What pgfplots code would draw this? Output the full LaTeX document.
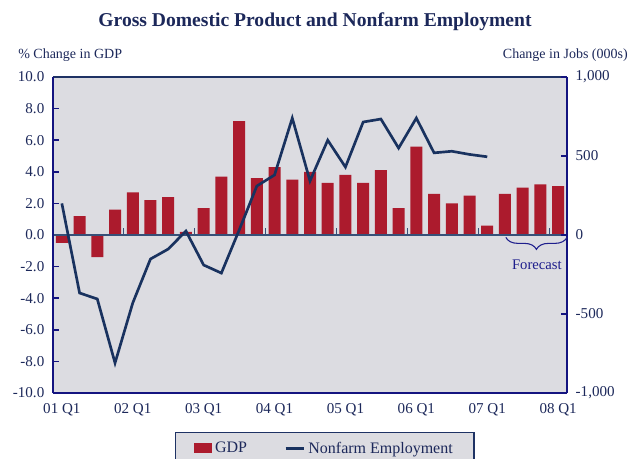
\documentclass[border=0pt]{standalone}
\usepackage{pgfplots}
\pgfplotsset{compat=1.18}
\usepackage{pgfplotstable}
\usepackage{fontspec}
\setmainfont{Liberation Serif}
\usetikzlibrary{decorations.pathreplacing}

\definecolor{gdpred}{RGB}{172,27,45}
\definecolor{jobline}{RGB}{25,50,95}
\definecolor{plotbg}{RGB}{220,220,225}
\definecolor{spine}{RGB}{20,20,128}
\definecolor{frameline}{RGB}{30,50,100}
\definecolor{zeroline}{RGB}{55,80,120}
\definecolor{txtblue}{RGB}{28,40,90}
\definecolor{fcblue}{RGB}{30,30,140}

% GDP, % change, 01 Q1 .. 08 Q1 (last four are forecast)
\pgfplotstableread{
q gdp
0 -0.5
1 1.2
2 -1.4
3 1.6
4 2.7
5 2.2
6 2.4
7 0.2
8 1.7
9 3.7
10 7.2
11 3.6
12 4.3
13 3.5
14 4.0
15 3.3
16 3.8
17 3.3
18 4.1
19 1.7
20 5.6
21 2.6
22 2.0
23 2.5
24 0.6
25 2.6
26 3.0
27 3.2
28 3.1
}\gdpdata

% nonfarm employment, change in jobs (000s)
\pgfplotstableread{
q jobs
0 200
1 -367
2 -405
3 -810
4 -430
5 -152
6 -89
7 25
8 -190
9 -241
10 30
11 310
12 380
13 740
14 342
15 600
16 430
17 715
18 734
19 550
20 740
21 520
22 530
23 510
24 495
}\jobsdata

\begin{document}
\begin{tikzpicture}
\pgfplotsset{
  base/.style={
    width=385.5pt, height=237pt, scale only axis,
    at={(0,0)}, anchor=south west,
    xmin=-0.5, xmax=28.5,
    clip=false,
    axis line style={draw=none},
    tick align=inside,
    major tick length=4.5pt,
    tick style={spine, line width=1.2pt},
    ticklabel style={font=\fontsize{11.3}{13}\selectfont, text=txtblue},
    /pgf/number format/assume math mode=true,
  }
}
\useasboundingbox (-39.75pt,-48.75pt) rectangle (433.5pt,294.75pt);

\begin{axis}[
  base,
  ymin=-10, ymax=10,
  ytick={-10,-8,...,10},
  ytick pos=left,
  yticklabel style={xshift=-3pt,
    /pgf/number format/fixed,
    /pgf/number format/fixed zerofill,
    /pgf/number format/precision=1},
  xtick={0,4,...,28},
  xticklabels={01 Q1,02 Q1,03 Q1,04 Q1,05 Q1,06 Q1,07 Q1,08 Q1},
  xtick pos=bottom,
  major x tick style={draw=none},
  xticklabel style={yshift=-4pt},
  axis background/.style={fill=plotbg},
  legend style={
    at={(0.529,0)}, anchor=north, yshift=-29pt,
    fill=plotbg, draw=frameline, line width=1.2pt,
    font=\fontsize{12}{14}\selectfont, text=txtblue,
    legend columns=2,
    inner xsep=14pt, inner ysep=5pt,
    /tikz/every even column/.append style={column sep=26pt},
  },
  legend cell align=left,
]
\addplot[ybar, bar width=9pt, fill=gdpred, draw=none,
  legend image code/.code={\fill[gdpred] (0pt,-3.5pt) rectangle (13.5pt,4pt);}]
  table[x=q, y=gdp] {\gdpdata};
\addlegendentry{GDP}
\addlegendimage{jobline, line width=2pt,
  legend image code/.code={\draw[jobline, line width=2pt] (0pt,0pt) -- (14pt,0pt);}}
\addlegendentry{Nonfarm Employment}

% zero line and year separators
\draw[zeroline, line width=1.4pt] (axis cs:-0.5,0) -- (axis cs:28.5,0);
\pgfplotsinvokeforeach{3.5,7.5,11.5,15.5,19.5,23.5,27.5}{
  \draw[zeroline, line width=0.8pt] (axis cs:#1,0) -- (axis cs:#1,0.45);
}
% frame
\draw[frameline, line width=1pt] (rel axis cs:0,1) -- (rel axis cs:1,1);
\draw[spine, line width=1.2pt] (rel axis cs:0,0) -- (rel axis cs:1,0);
\draw[spine, line width=1.8pt] (rel axis cs:0,0) -- (rel axis cs:0,1);
\draw[spine, line width=1.8pt] (rel axis cs:1,0) -- (rel axis cs:1,1);

% forecast brace
\draw[fcblue, line width=0.8pt, decorate, decoration={brace, amplitude=9pt, mirror}]
  (axis cs:25.05,-0.15) -- (axis cs:28.5,-0.15);
\node[fcblue, font=\fontsize{11}{13}\selectfont] at (axis cs:26.8,-1.9) {Forecast};

% titles
\node[txtblue, font=\fontsize{14.7}{17}\selectfont\bfseries]
  at ([xshift=3.75pt, yshift=41.25pt]rel axis cs:0.5,1)
  {Gross Domestic Product and Nonfarm Employment};
\node[txtblue, anchor=west, inner sep=0pt, font=\fontsize{10.5}{12}\selectfont]
  at ([xshift=-26.25pt, yshift=16.5pt]rel axis cs:0,1) {\% Change in GDP};
\node[txtblue, anchor=east, inner sep=0pt, font=\fontsize{10.5}{12}\selectfont]
  at ([xshift=45.75pt, yshift=16.5pt]rel axis cs:1,1) {Change in Jobs (000s)};
\end{axis}

\begin{axis}[
  base,
  ymin=-1000, ymax=1000,
  ytick={-1000,-500,...,1000},
  axis y line*=right,
  axis x line=none,
  axis line style={draw=none},
  tick align=inside,
  yticklabel style={xshift=3pt, /pgf/number format/1000 sep={,}},
]
\addplot[jobline, line width=2pt, line join=miter] table[x=q, y=jobs] {\jobsdata};
\end{axis}
\end{tikzpicture}
\end{document}
